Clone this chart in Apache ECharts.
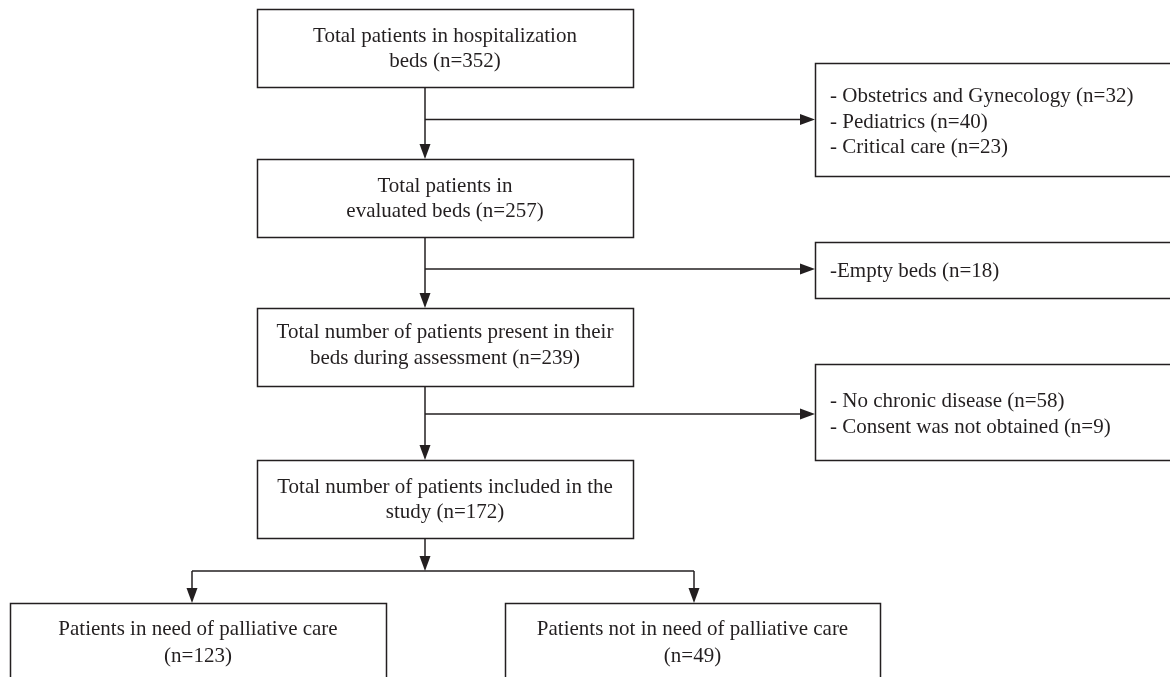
<!DOCTYPE html>
<html>
<head>
<meta charset="utf-8">
<script src="https://cdn.jsdelivr.net/npm/echarts@6/dist/echarts.min.js"></script>
<style>
html,body{margin:0;padding:0;background:#fff;}
#chart{width:1170px;height:677px;}
</style>
</head>
<body>
<div id="chart"></div>
<script>
// ---------- DATA ----------
const mainLabels = [
  'Total patients in hospitalization\nbeds',
  'Total patients in\nevaluated beds',
  'Total number of patients present in their\nbeds during assessment',
  'Total number of patients included in the\nstudy'
];
const mainCounts = [352, 257, 239, 172];

const exclusionLabels = [
  ['- Obstetrics and Gynecology', '- Pediatrics', '- Critical care'],
  ['-Empty beds'],
  ['- No chronic disease', '- Consent was not obtained']
];
const exclusionCounts = [
  [32, 40, 23],
  [18],
  [58, 9]
];

const outcomeLabels = [
  'Patients in need of palliative care\n',
  'Patients not in need of palliative care\n'
];
const outcomeCounts = [123, 49];

// ---------- LAYOUT ----------
const W = 1170, H = 677;
const mainX0 = 257, mainX1 = 633, spineX = 425, boxH = 78;
const mainTops = [9, 159, 308, 460];
const mainTextShift = [0, 0, -2.5, 0];
const sideX0 = 815, sideX1 = 1172;
const sideBoxes = [[63, 176], [242, 298], [364, 460]];
const sideTextShift = [1.5, 0, 1.5];
const branchYs = [119.5, 269, 414];
const splitY = 571;
const outcomeBoxes = [[10, 386], [505, 880]];
const outcomeDropX = [192, 694];
const outcomeTop = 603;
const FONT = '"Liberation Serif", "DejaVu Serif", serif';
const FS = 21, LH = 25.5, LH_OUT = 27.5;
const INK = '#231f20';

// ---------- build boxes ----------
const boxes = [];
mainLabels.forEach((lab, i) => {
  boxes.push({value: [mainX0, mainTops[i], mainX1, mainTops[i] + boxH],
    text: lab + ' (n=' + mainCounts[i] + ')', align: 'center', shift: mainTextShift[i], lh: LH});
});
exclusionLabels.forEach((labs, i) => {
  boxes.push({value: [sideX0, sideBoxes[i][0], sideX1, sideBoxes[i][1]],
    text: labs.map((l, j) => l + ' (n=' + exclusionCounts[i][j] + ')').join('\n'),
    align: 'left', shift: sideTextShift[i], lh: LH});
});
outcomeLabels.forEach((lab, i) => {
  boxes.push({value: [outcomeBoxes[i][0], outcomeTop, outcomeBoxes[i][1], outcomeTop + boxH],
    text: lab + '(n=' + outcomeCounts[i] + ')', align: 'center', shift: 0, lh: LH_OUT});
});

// ---------- build arrows ----------
const arrows = [];
for (let i = 0; i < 3; i++) {
  arrows.push([spineX, mainTops[i] + boxH, spineX, mainTops[i + 1], 1]);
  arrows.push([spineX, branchYs[i], sideX0, branchYs[i], 1]);
}
arrows.push([spineX, mainTops[3] + boxH, spineX, splitY, 1]);
arrows.push([outcomeDropX[0], splitY, outcomeDropX[1], splitY, 0]);
outcomeDropX.forEach(x => arrows.push([x, splitY, x, outcomeTop, 1]));

const chart = echarts.init(document.getElementById('chart'));

function renderBox(params, api) {
  const p0 = api.coord([api.value(0), api.value(1)]);
  const p1 = api.coord([api.value(2), api.value(3)]);
  const b = boxes[params.dataIndex];
  const x = Math.min(p0[0], p1[0]), y = Math.min(p0[1], p1[1]);
  const w = Math.abs(p1[0] - p0[0]), h = Math.abs(p1[1] - p0[1]);
  const tx = b.align === 'center' ? x + w / 2 : x + 15;
  return {
    type: 'group',
    children: [
      {type: 'rect', shape: {x: Math.round(x) + 0.5, y: Math.round(y) + 0.5, width: Math.round(w), height: Math.round(h)},
       style: {fill: '#fff', stroke: INK, lineWidth: 1.5}},
      {type: 'text', style: {text: b.text, x: tx, y: y + h / 2 + 1 + b.shift, fill: INK,
        fontSize: FS, fontFamily: FONT, align: b.align, verticalAlign: 'middle', lineHeight: b.lh}}
    ]
  };
}

function renderArrow(params, api) {
  const a = api.coord([api.value(0), api.value(1)]);
  const b = api.coord([api.value(2), api.value(3)]);
  const head = api.value(4);
  const dx = b[0] - a[0], dy = b[1] - a[1];
  const len = Math.sqrt(dx * dx + dy * dy);
  const ux = dx / len, uy = dy / len;
  const hl = 15, hw = 5.5;
  const end = head ? [b[0] - ux * hl, b[1] - uy * hl] : b;
  const children = [
    {type: 'line', shape: {x1: a[0], y1: a[1], x2: end[0], y2: end[1]},
     style: {stroke: INK, lineWidth: 1.5}}
  ];
  if (head) {
    const bx = b[0] - ux * hl, by = b[1] - uy * hl;
    children.push({type: 'polygon', shape: {points: [
      [b[0], b[1]],
      [bx - uy * hw, by + ux * hw],
      [bx + uy * hw, by - ux * hw]
    ]}, style: {fill: INK}});
  }
  return {type: 'group', children};
}

chart.setOption({
  animation: false,
  backgroundColor: '#fff',
  grid: {left: 0, right: 0, top: 0, bottom: 0},
  xAxis: {type: 'value', min: 0, max: W, show: false},
  yAxis: {type: 'value', min: 0, max: H, inverse: true, show: false},
  series: [
    {type: 'custom', renderItem: renderArrow, data: arrows, silent: true, z: 1},
    {type: 'custom', renderItem: renderBox, data: boxes.map(b => ({value: b.value})), silent: true, z: 2}
  ]
});
</script>
</body>
</html>
